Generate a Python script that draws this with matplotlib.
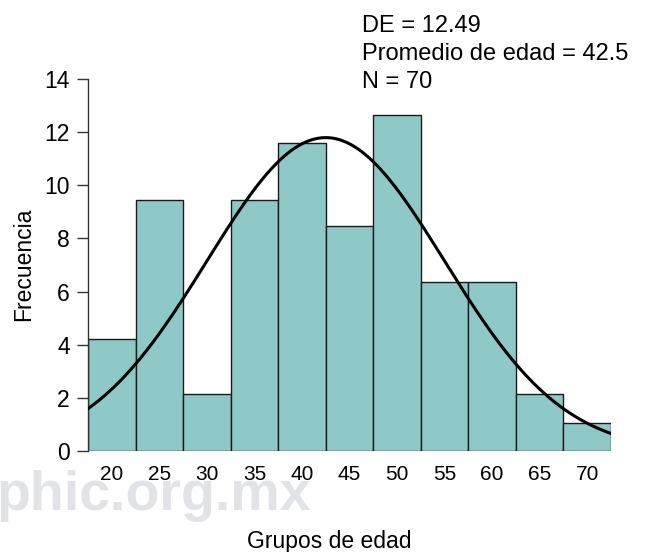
import numpy as np
import matplotlib.pyplot as plt

# --------------------------------------------
# Data
# --------------------------------------------
age_groups = [20, 25, 30, 35, 40, 45, 50, 55, 60, 65, 70]
frequency = [4.2, 9.45, 2.15, 9.45, 11.6, 8.45, 12.65, 6.35, 6.35, 2.15, 1.05]
bin_width = 5
mean_age = 42.5
sd_age = 12.49
n_total = 70

plt.rcParams['font.family'] = ['Liberation Sans', 'DejaVu Sans']

fig = plt.figure(figsize=(6.46, 5.52), dpi=100)
ax = fig.add_axes([88 / 646, 101 / 552, 523 / 646, 372 / 552])

# watermark behind everything
fig.text(-4 / 646, 42 / 552, "phic.org.mx", fontsize=40, fontweight="bold",
         color="#e2e3e6", ha="left", va="baseline", zorder=0)
ax.set_facecolor("none")

ax.bar(age_groups, frequency, width=bin_width, color="#8ec9c8",
       edgecolor="#1a1a1a", linewidth=1.0, zorder=2)

# normal curve using the stated mean / SD, scaled to the bar area
xs = np.linspace(age_groups[0] - bin_width / 2, age_groups[-1] + bin_width / 2, 300)
scale = sum(frequency) * bin_width
pdf = np.exp(-0.5 * ((xs - mean_age) / sd_age) ** 2) / (sd_age * np.sqrt(2 * np.pi))
ax.plot(xs, scale * pdf, color="black", linewidth=2.2, zorder=3)

ax.set_xlim(age_groups[0] - bin_width / 2, age_groups[-1] + bin_width / 2)
ax.set_ylim(0, 14)
ax.set_yticks(range(0, 15, 2))
ax.set_xticks(age_groups)
ax.tick_params(axis="y", length=8, width=1, pad=5, labelsize=16.5, color="#333333")
ax.tick_params(axis="x", length=0, pad=10, labelsize=15)

for side in ["top", "right", "bottom"]:
    ax.spines[side].set_visible(False)
ax.spines["left"].set_color("#333333")
ax.spines["left"].set_linewidth(1)

fig.text(24 / 646, 1 - 264 / 552, "Frecuencia", rotation=90, fontsize=16.5,
         ha="center", va="center")
fig.text(329 / 646, 4 / 552, "Grupos de edad", fontsize=16.5,
         ha="center", va="baseline")

stats = [f"DE = {sd_age}", f"Promedio de edad = {mean_age}", f"N = {n_total}"]
for i, line in enumerate(stats):
    fig.text(362 / 646, 1 - (32 + 28 * i) / 552, line, fontsize=17,
             ha="left", va="baseline")

fig.savefig("out.png", dpi=100)
